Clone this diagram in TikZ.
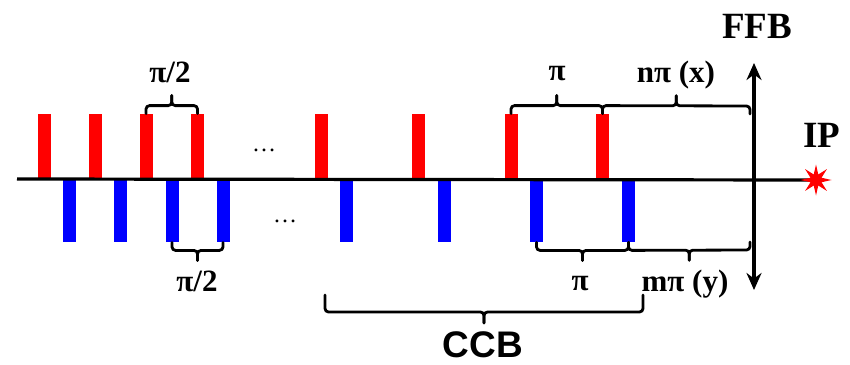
\documentclass[tikz,border=0pt]{standalone}
\usepackage{fontspec}
\setmainfont{Liberation Serif}
\setsansfont{Liberation Sans}
\usepackage{tikz}
\usetikzlibrary{arrows.meta,shapes.geometric,calc}
\definecolor{KickRed}{HTML}{FF0000}
\definecolor{KickBlue}{HTML}{0000FF}
% brace between two points: from, to, leg offset, tip offset
\newcommand{\phasebrace}[4]{%
  \draw[bracepath] (#1) -- ($(#1)+(0,#3)$) -- ($(#1)!.5!(#2)+(0,#3)$) -- ($(#1)!.5!(#2)+(0,#4)$);
  \draw[bracepath] (#2) -- ($(#2)+(0,#3)$) -- ($(#1)!.5!(#2)+(0,#3)$) -- ($(#1)!.5!(#2)+(0,#4)$);}

\begin{document}
\begin{tikzpicture}[
  x=1pt, y=-1pt,
  redbar/.style={fill=KickRed, inner sep=0pt, minimum width=13pt, minimum height=65pt, anchor=south},
  bluebar/.style={fill=KickBlue, inner sep=0pt, minimum width=13pt, minimum height=63pt, anchor=north},
  bracepath/.style={line width=2.8pt, rounded corners=3.5pt, line cap=round},
  beam/.style={line width=3.2pt},
  ipstar/.style={star, star points=8, star point ratio=2.6, minimum size=31pt, inner sep=0pt, fill=KickRed},
  ffbarrow/.style={{Stealth[length=17pt,width=15pt]}-{Stealth[length=17pt,width=15pt]}, line width=3.2pt},
  lbl/.style={anchor=base, inner sep=0pt, font=\fontsize{31}{33}\selectfont\bfseries},
  biglbl/.style={anchor=base, inner sep=0pt, font=\fontsize{37}{40}\selectfont\bfseries},
  dotlbl/.style={anchor=base, inner sep=0pt, font=\fontsize{24}{26}\selectfont}
]
\useasboundingbox (0,0) rectangle (850,364);
% horizontal kickers (x)
\node[redbar] (r1) at (44,179) {};
\node[redbar] (r2) at (95,179) {};
\node[redbar] (r3) at (146,179) {};
\node[redbar] (r4) at (197.5,179) {};
\node[redbar] (r5) at (321.5,179) {};
\node[redbar] (r6) at (418.5,179) {};
\node[redbar] (r7) at (511,179) {};
\node[redbar] (r8) at (602.5,179) {};
% vertical kickers (y)
\node[bluebar] (b1) at (69.5,179) {};
\node[bluebar] (b2) at (120.5,179) {};
\node[bluebar] (b3) at (172,179) {};
\node[bluebar] (b4) at (223,179) {};
\node[bluebar] (b5) at (346.5,179) {};
\node[bluebar] (b6) at (444,179) {};
\node[bluebar] (b7) at (536.5,179) {};
\node[bluebar] (b8) at (628.5,179) {};
\node[dotlbl] (dotsup) at (264,151) {\dots};
\node[dotlbl] (dotsdn) at (285,222) {\dots};
% beam line and IP
\coordinate (beamstart) at (17,179);
\coordinate (ippos) at (816,180);
\draw[beam] (beamstart) -- (ippos);
\node[ipstar] (ip) at (ippos) {};
\node[biglbl] (iplbl) at (822,147) {IP};
% FFB
\coordinate (ffbtop) at (754,63);
\coordinate (ffbbot) at (754,290);
\draw[ffbarrow] (ffbbot) -- (ffbtop);
\node[biglbl] (ffblbl) at (757,38) {FFB};
% phase advance braces
\coordinate (xend) at (750,114);
\coordinate (yend) at (750,242);
\phasebrace{r3.north}{r4.north}{-8}{-18}
\phasebrace{r7.north}{r8.north}{-8}{-18}
\phasebrace{r8.north}{xend}{-8}{-18}
\phasebrace{b3.south}{b4.south}{8}{18}
\phasebrace{b7.south}{b8.south}{8}{18}
\phasebrace{b8.south}{yend}{8}{18}
\node[lbl] (pihalfx) at (170,82) {π/2};
\node[lbl] (pix) at (557,80) {π};
\node[lbl] (npix) at (676,82) {nπ (x)};
\node[lbl] (pihalfy) at (197,291) {π/2};
\node[lbl] (piy) at (580,290) {π};
\node[lbl] (mpiy) at (685,291) {mπ (y)};
% CCB
\coordinate (ccbl) at (325,295);
\coordinate (ccbr) at (643,295);
\phasebrace{ccbl}{ccbr}{17}{28}
\node[biglbl, font=\fontsize{37}{40}\selectfont\sffamily\bfseries] (ccblbl) at (483,357) {CCB};
\end{tikzpicture}
\end{document}
